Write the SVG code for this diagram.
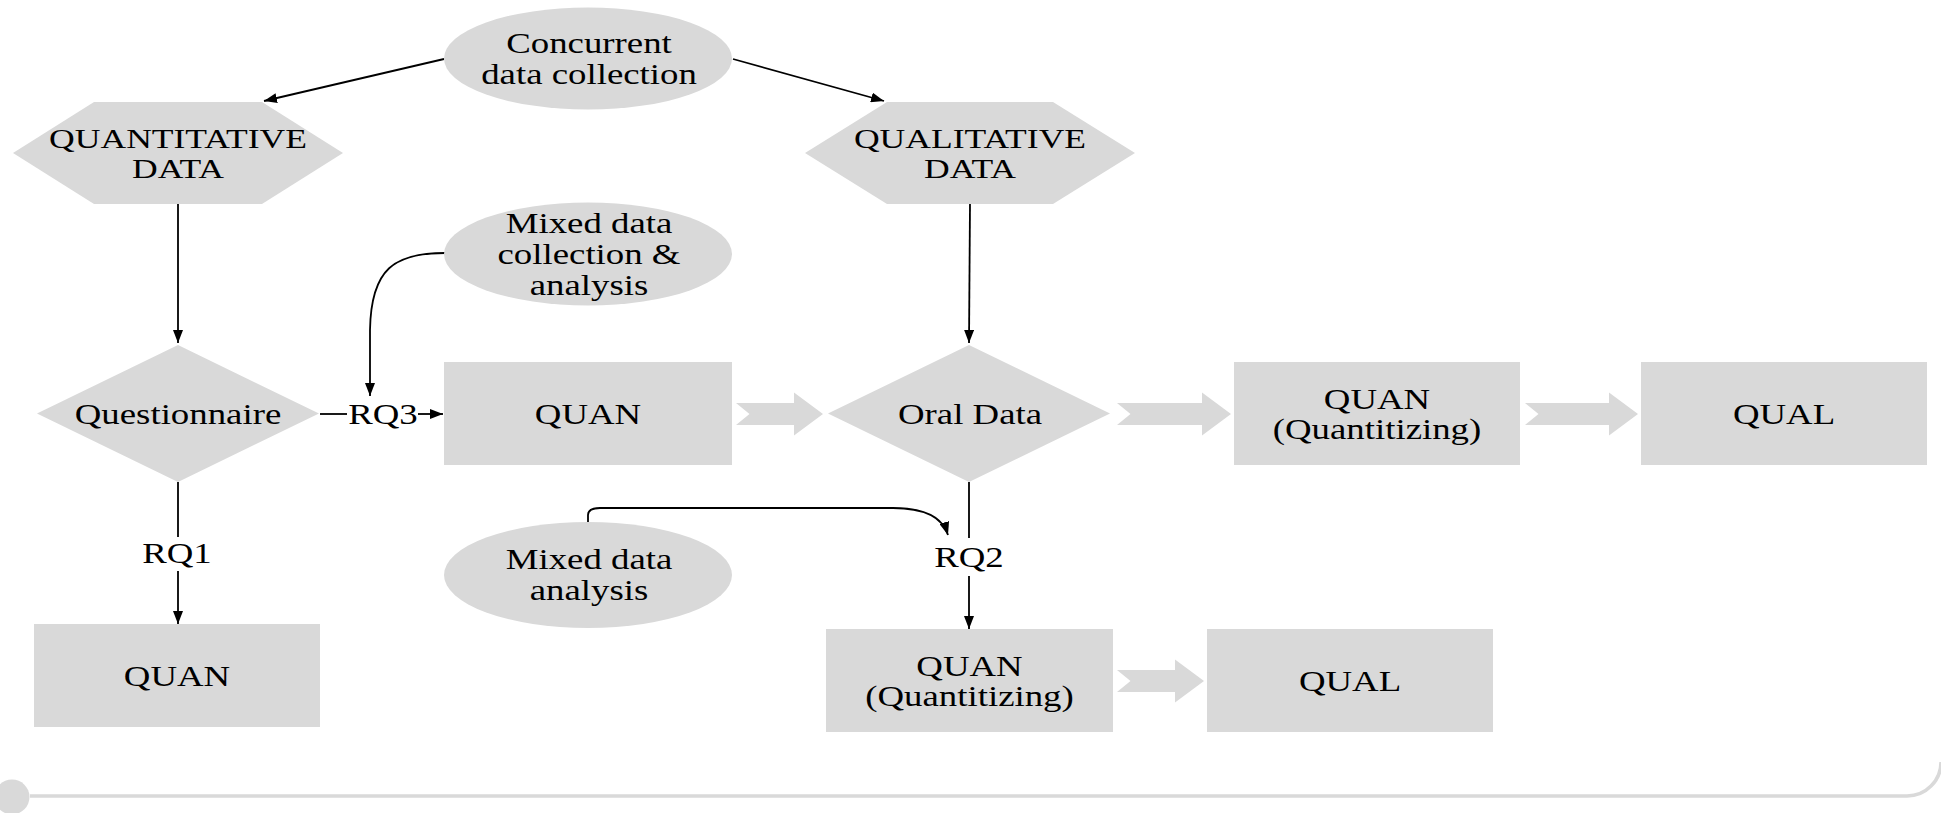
<svg xmlns="http://www.w3.org/2000/svg" width="1941" height="813" viewBox="0 0 1941 813">
<style>
.shape{fill:#d9d9d9;stroke:none}
.t{font-family:"Liberation Serif","Times New Roman",serif;font-size:29px;fill:#000;text-anchor:middle}
.h{font-size:28px}
.ln{fill:none;stroke:#000;stroke-width:1.8}
.ar{marker-end:url(#ah)}
.blk{fill:#d9d9d9;stroke:none}
.deco{fill:none;stroke:#d9d9d9;stroke-width:3.5}
</style>
<defs>
<marker id="ah" markerUnits="userSpaceOnUse" markerWidth="13" markerHeight="10" refX="13" refY="5" orient="auto">
<path d="M0,0 L13,5 L0,10 Z" fill="#000"/>
</marker>
</defs>
<rect x="0" y="0" width="1941" height="813" fill="#fff"/>

<g id="connectors">
<path class="ln ar" d="M444,59 L264,101"/>
<path class="ln ar" d="M733,59 L884,101"/>
<path class="ln ar" d="M178,204 L178,343"/>
<path class="ln ar" d="M970,204 L969,343"/>
<path class="ln ar" d="M445,253 C395,253 371,268 370,330 L370,396"/>
<path class="ln" d="M320,414 L347,414"/>
<path class="ln ar" d="M418,414 L443,414"/>
<path class="ln" d="M178,482 L178,537"/>
<path class="ln ar" d="M178,571 L178,624"/>
<path class="ln" d="M969,482 L969,538"/>
<path class="ln ar" d="M969,576 L969,629"/>
<path class="ln ar" d="M588,522 L588,515 Q588,508 600,508 L893,508 C922,508 942,515 948,535"/>
<polygon class="blk" points="736,403 794,403 794,392.5 823,414 794,435.5 794,425 736,425 749.5,414"/>
<polygon class="blk" points="1117,403 1202,403 1202,392.5 1231,414 1202,435.5 1202,425 1117,425 1130.5,414"/>
<polygon class="blk" points="1525,403 1609,403 1609,392.5 1638,414 1609,435.5 1609,425 1525,425 1538.5,414"/>
<polygon class="blk" points="1117,670 1175,670 1175,659.5 1204,681 1175,702.5 1175,692 1117,692 1130.5,681"/>
<text class="t" transform="translate(383 424) scale(1.27 1)">RQ3</text>
<text class="t" transform="translate(177 563) scale(1.27 1)">RQ1</text>
<text class="t" transform="translate(969 567) scale(1.27 1)">RQ2</text>
</g>

<g id="concurrent">
<ellipse class="shape" cx="588" cy="58.5" rx="144" ry="51"/>
<text class="t" transform="translate(589 53) scale(1.27 1)">Concurrent</text>
<text class="t" transform="translate(589 84) scale(1.27 1)">data collection</text>
</g>

<g id="quantitative">
<polygon class="shape" points="13,153 94,102 262,102 343,153 262,204 94,204"/>
<text class="t h" transform="translate(178 148) scale(1.27 1)">QUANTITATIVE</text>
<text class="t h" transform="translate(178 178) scale(1.27 1)">DATA</text>
</g>

<g id="qualitative">
<polygon class="shape" points="805,153 887,102 1053,102 1135,153 1053,204 887,204"/>
<text class="t h" transform="translate(970 148) scale(1.27 1)">QUALITATIVE</text>
<text class="t h" transform="translate(970 178) scale(1.27 1)">DATA</text>
</g>

<g id="mixed-collection">
<ellipse class="shape" cx="588" cy="254" rx="144" ry="51.5"/>
<text class="t" transform="translate(589 233) scale(1.27 1)">Mixed data</text>
<text class="t" transform="translate(589 264) scale(1.27 1)">collection &amp;</text>
<text class="t" transform="translate(589 295) scale(1.27 1)">analysis</text>
</g>

<g id="questionnaire">
<polygon class="shape" points="37,413.5 178,345 319,413.5 178,482"/>
<text class="t" transform="translate(178 424) scale(1.27 1)">Questionnaire</text>
</g>

<g id="quan1">
<rect class="shape" x="444" y="362" width="288" height="103"/>
<text class="t" transform="translate(588 424) scale(1.27 1)">QUAN</text>
</g>

<g id="oral">
<polygon class="shape" points="828,413.5 969,345 1110,413.5 969,482"/>
<text class="t" transform="translate(970 424) scale(1.27 1)">Oral Data</text>
</g>

<g id="quan-quantitizing-1">
<rect class="shape" x="1234" y="362" width="286" height="103"/>
<text class="t" transform="translate(1377 409) scale(1.27 1)">QUAN</text>
<text class="t" transform="translate(1377 439) scale(1.27 1)">(Quantitizing)</text>
</g>

<g id="qual1">
<rect class="shape" x="1641" y="362" width="286" height="103"/>
<text class="t" transform="translate(1784 424) scale(1.27 1)">QUAL</text>
</g>

<g id="quan-rq1">
<rect class="shape" x="34" y="624" width="286" height="103"/>
<text class="t" transform="translate(177 686) scale(1.27 1)">QUAN</text>
</g>

<g id="mixed-analysis">
<ellipse class="shape" cx="588" cy="575" rx="144" ry="53"/>
<text class="t" transform="translate(589 569) scale(1.27 1)">Mixed data</text>
<text class="t" transform="translate(589 600) scale(1.27 1)">analysis</text>
</g>

<g id="quan-quantitizing-2">
<rect class="shape" x="826" y="629" width="287" height="103"/>
<text class="t" transform="translate(969.5 676) scale(1.27 1)">QUAN</text>
<text class="t" transform="translate(969.5 706) scale(1.27 1)">(Quantitizing)</text>
</g>

<g id="qual2">
<rect class="shape" x="1207" y="629" width="286" height="103"/>
<text class="t" transform="translate(1350 691) scale(1.27 1)">QUAL</text>
</g>

<g id="frame">
<path class="deco" d="M30,796 H1907 A34,34 0 0 0 1941,762"/>
<circle cx="12" cy="797" r="17.5" fill="#d9d9d9"/>
</g>
</svg>
